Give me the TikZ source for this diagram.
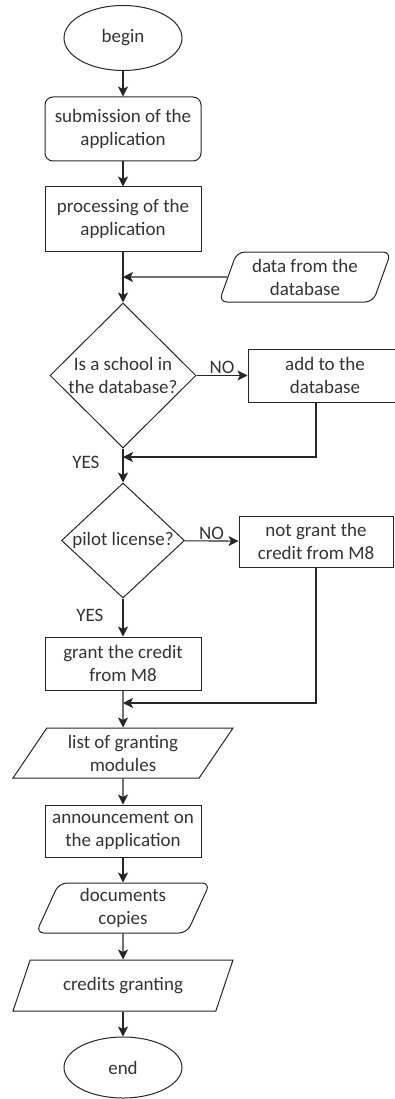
\documentclass[tikz,border=0pt]{standalone}
\usepackage{fontspec}
\setmainfont{Carlito}
\usetikzlibrary{
    arrows.meta,
    shapes.geometric
}

\begin{document}
\begin{tikzpicture}[
    x=1pt, y=-1pt,
    font=\fontsize{19}{23}\selectfont,
    text=black!80,
    terminal/.style={
        ellipse,
        draw=black!85,
        line width=1pt,
        minimum width=118pt,
        minimum height=65pt
    },
    process/.style={
        rectangle,
        draw=black!85,
        line width=1pt,
        align=center,
        inner sep=2pt,
        minimum width=156pt,
        minimum height=53pt
    },
    decision/.style={
        diamond,
        draw=black!85,
        line width=1pt,
        align=center,
        inner sep=-10pt
    },
    io/.style={
        trapezium,
        trapezium stretches body,
        draw=black!85,
        line width=1pt,
        align=center,
        inner sep=2pt,
        minimum height=50pt
    },
    flow/.style={
        -{Stealth[length=10pt,width=10pt,inset=2.5pt]},
        line width=1.1pt,
        draw=black!85
    },
    answer/.style={
        inner sep=1pt
    }
]
\path[use as bounding box, clip] (0,0) rectangle (395,1099);

% =========================================================
% Start and application handling
% =========================================================
\node[terminal] (begin) at (123,38) {begin};

\node[process, rounded corners=8pt, minimum height=64pt] (submit) at (123,129)
{submission of the\\application};

\node[process, minimum height=64pt] (processing) at (123,219)
{processing of the\\application};

\node[io, rounded corners=8pt, minimum width=172pt,
    trapezium left angle=66, trapezium right angle=114] (data) at (305,277)
{data from the\\database};

\coordinate (join1) at (123,277);

% =========================================================
% Checks
% =========================================================
\node[decision, minimum width=146pt, minimum height=145pt] (school) at (123,375.5)
{Is a school in\\the database?};

\node[process, minimum width=154pt] (add) at (325,375.5)
{add to the\\database};

\coordinate (join3) at (123,457);

\node[decision, minimum width=123pt, minimum height=115pt] (pilot) at (123,540.5)
{pilot license?};

\node[process, minimum width=154pt, minimum height=51pt] (notgrant) at (316,541.5)
{not grant the\\credit from M8};

\node[process] (grant) at (123,663.5)
{grant the credit\\from M8};

\coordinate (join2) at (123,703);

% =========================================================
% Results
% =========================================================
\node[io, minimum width=220pt,
    trapezium left angle=50, trapezium right angle=130] (modules) at (123,753)
{list of granting\\modules};

\node[process, minimum height=52pt] (announce) at (123,831)
{announcement on\\the application};

\node[io, rounded corners=8pt, minimum width=174pt,
    trapezium left angle=62, trapezium right angle=118] (copies) at (123,908)
{documents\\copies};

\node[io, minimum width=220pt, minimum height=51pt,
    trapezium left angle=50, trapezium right angle=130] (credits) at (123,985.5)
{credits granting};

\node[terminal, minimum height=61pt] (end) at (123,1067.5) {end};

% =========================================================
% Main flow
% =========================================================
\draw[flow] (begin) -- (submit);
\draw[flow] (submit) -- (processing);
\draw[flow] (processing) -- (school);
\draw[flow] (data.west) -- (join1);

\draw[flow] (school) -- node[answer, above] {NO} (add);
\draw[flow] (add.south -| notgrant) |- (join3);
\draw[flow] (school) -- node[answer, pos=0.4, left=22pt] {YES} (pilot);

\draw[flow] (pilot) -- node[answer, above] {NO} (notgrant);
\draw[flow] (notgrant) |- (join2);
\draw[flow] (pilot) -- node[answer, pos=0.44, left=18pt] {YES} (grant);

\draw[flow] (grant) -- (modules);
\draw[flow] (modules) -- (announce);
\draw[flow] (announce) -- (copies);
\draw[flow] (copies) -- (credits);
\draw[flow] (credits) -- (end);

\end{tikzpicture}
\end{document}
